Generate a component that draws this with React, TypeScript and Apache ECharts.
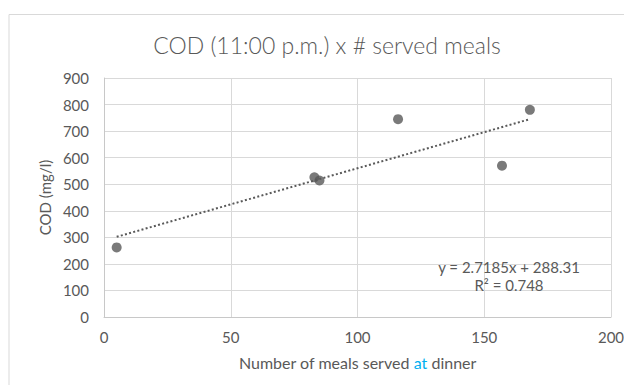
import React, { useEffect, useRef } from "react";
import * as echarts from "echarts";

const mealsServed: number[] = [5, 83, 85, 116, 157, 168];
const codValues: number[] = [262, 526, 514, 745, 570, 780];
const trendSlope = 2.7185;
const trendIntercept = 288.31;
const rSquared = 0.748;
const xTicks = { min: 0, max: 200, interval: 50 };
const yTicks = { min: 0, max: 900, interval: 100 };

const TEXT = "#595959";
const GRID = "#d9d9d9";
const FONT = "Lato, 'Noto Sans', sans-serif";

export default function App() {
  const ref = useRef<HTMLDivElement>(null);
  useEffect(() => {
    if (!ref.current) return;
    const chart = echarts.init(ref.current, undefined, { renderer: "svg" });
    const points = mealsServed.map((x, i) => [x, codValues[i]]);
    const xMin = Math.min(...mealsServed);
    const xMax = Math.max(...mealsServed);
    const trend = [
      [xMin, trendSlope * xMin + trendIntercept],
      [xMax, trendSlope * xMax + trendIntercept],
    ];
    chart.setOption({
      animation: false,
      backgroundColor: "#ffffff",
      textStyle: { fontFamily: FONT },
      title: {
        text: "COD (11:00 p.m.) x # served meals",
        left: 314,
        top: 20,
        textAlign: "center",
        textStyle: { fontFamily: FONT, fontSize: 23, fontWeight: 300, color: TEXT },
      },
      grid: { left: 96, top: 70, right: 21, bottom: 68, containLabel: false },
      xAxis: {
        type: "value",
        min: xTicks.min,
        max: xTicks.max,
        interval: xTicks.interval,
        name: "Number of meals served {b|at} dinner",
        nameLocation: "middle",
        nameGap: 37,
        nameTextStyle: {
          fontFamily: FONT,
          fontSize: 16,
          color: TEXT,
          rich: { b: { color: "#00b0f0", fontFamily: FONT, fontSize: 16 } },
        },
        axisLine: { show: true, lineStyle: { color: "#c8c8c8", width: 1 } },
        axisTick: { show: false },
        axisLabel: { color: TEXT, fontSize: 15, fontFamily: FONT, margin: 12 },
        splitLine: { show: true, lineStyle: { color: GRID, width: 1 } },
      },
      yAxis: {
        type: "value",
        min: yTicks.min,
        max: yTicks.max,
        interval: yTicks.interval,
        name: "COD (mg/l)",
        nameLocation: "middle",
        nameGap: 49,
        nameRotate: 90,
        nameTextStyle: { fontFamily: FONT, fontSize: 15, color: TEXT },
        axisLine: { show: true, lineStyle: { color: "#c8c8c8", width: 1 } },
        axisTick: { show: false },
        axisLabel: { color: TEXT, fontSize: 15, fontFamily: FONT, margin: 15 },
        splitLine: { show: true, lineStyle: { color: GRID, width: 1 } },
      },
      series: [
        {
          type: "line",
          data: trend,
          symbol: "none",
          lineStyle: { color: "#595959", width: 2, type: [2, 2.3] },
          z: 2,
        },
        {
          type: "scatter",
          data: points,
          symbol: "circle",
          symbolSize: 10,
          itemStyle: { color: "#595959" },
          z: 3,
        },
      ],
      graphic: [
        {
          type: "rect",
          shape: { x: 1, y: 6.5, width: 700, height: 500 },
          style: { fill: "none", stroke: GRID, lineWidth: 1 },
          silent: true,
          z: -1,
        },
        {
          type: "text",
          x: 501,
          y: 259,
          style: {
            text: `y = ${trendSlope}x + ${trendIntercept}`,
            fill: TEXT,
            font: `15px ${FONT}`,
            textAlign: "center",
            textVerticalAlign: "middle",
          },
          z: 10,
        },
        {
          type: "text",
          x: 501,
          y: 277,
          style: {
            text: `R² = ${rSquared}`,
            fill: TEXT,
            font: `15px ${FONT}`,
            textAlign: "center",
            textVerticalAlign: "middle",
          },
          z: 10,
        },
      ],
    });
    return () => chart.dispose();
  }, []);
  return <div ref={ref} style={{ width: 624, height: 377 }} />;
}
